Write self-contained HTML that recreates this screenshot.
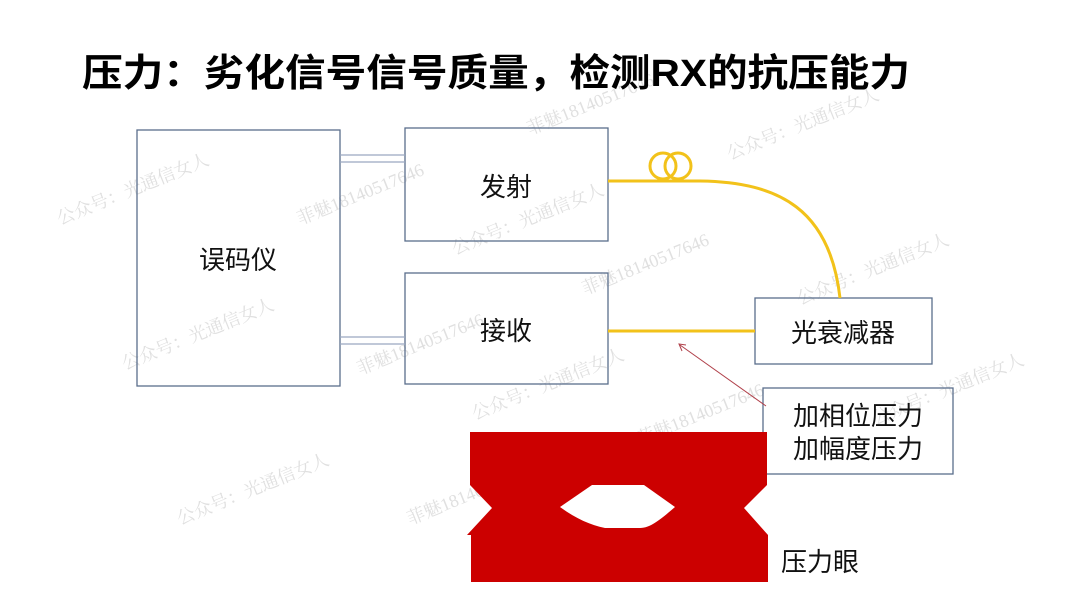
<!DOCTYPE html>
<html><head><meta charset="utf-8"><style>
html,body{margin:0;padding:0;background:#fff;}
svg{display:block;}
text{font-family:"Liberation Sans","Noto Sans CJK SC",sans-serif;}
.wm text{font-family:"Liberation Serif","Noto Serif CJK SC",serif;}
</style></head><body>
<svg width="1080" height="607" viewBox="0 0 1080 607" xmlns="http://www.w3.org/2000/svg">
<rect width="1080" height="607" fill="#fff"/>
<g class="wm" fill="#e0e0e0" font-size="18">
<text transform="translate(60,225) rotate(-22)">公众号：光通信女人</text>
<text transform="translate(300,225) rotate(-22)">菲魅18140517646</text>
<text transform="translate(455,255) rotate(-22)">公众号：光通信女人</text>
<text transform="translate(530,135) rotate(-22)">菲魅18140517646</text>
<text transform="translate(730,160) rotate(-22)">公众号：光通信女人</text>
<text transform="translate(585,295) rotate(-22)">菲魅18140517646</text>
<text transform="translate(800,305) rotate(-22)">公众号：光通信女人</text>
<text transform="translate(125,370) rotate(-22)">公众号：光通信女人</text>
<text transform="translate(360,375) rotate(-22)">菲魅18140517646</text>
<text transform="translate(475,420) rotate(-22)">公众号：光通信女人</text>
<text transform="translate(640,445) rotate(-22)">菲魅18140517646</text>
<text transform="translate(875,425) rotate(-22)">公众号：光通信女人</text>
<text transform="translate(180,525) rotate(-22)">公众号：光通信女人</text>
<text transform="translate(410,525) rotate(-22)">菲魅18140517646</text>
</g>
<text x="82" y="86" font-size="38" font-weight="bold" fill="#000" textLength="828" lengthAdjust="spacingAndGlyphs">压力：劣化信号信号质量，检测RX的抗压能力</text>
<g fill="none" stroke="#5a6e8c" stroke-width="1.3">
<rect x="137" y="130" width="203" height="256"/>
<rect x="405" y="128" width="203" height="113"/>
<rect x="405" y="273" width="203" height="111"/>
<rect x="755" y="298" width="177" height="66"/>
<rect x="763" y="388" width="190" height="86"/>
</g>
<g stroke="#9aa8c0" stroke-width="1.2">
<line x1="340" y1="155" x2="405" y2="155"/><line x1="340" y1="162" x2="405" y2="162"/>
<line x1="340" y1="337" x2="405" y2="337"/><line x1="340" y1="344" x2="405" y2="344"/>
</g>
<g font-size="26" fill="#111" text-anchor="middle">
<text x="238" y="269">误码仪</text>
<text x="506" y="196">发射</text>
<text x="506" y="340">接收</text>
<text x="843" y="342">光衰减器</text>
<text x="858" y="425">加相位压力</text>
<text x="858" y="458">加幅度压力</text>
<text x="820" y="571">压力眼</text>
</g>
<g fill="none" stroke="#f2c21a" stroke-width="3">
<path d="M608,181 L700,181 C780,182 830,210 840,298"/>
<circle cx="663" cy="166" r="13"/>
<circle cx="678" cy="166" r="13"/>
<line x1="608" y1="331" x2="755" y2="331"/>
</g>
<line x1="766" y1="406" x2="680" y2="345" stroke="#b0404a" stroke-width="1"/>
<path d="M686,345 L679,344 L682,351" fill="none" stroke="#b0404a" stroke-width="1"/>
<path d="M470,432 L767,432 L767,485 L744,508 L768,535 L768,582 L471,582 L471,535 L467,535 L492,508 L470,485 Z" fill="#cc0000"/>
<path d="M560,507 L592,485 L644,485 L675,507 C660,520 650,528 640,528 L605,528 C590,525 575,518 560,507 Z" fill="#fff"/>
</svg>
</body></html>
